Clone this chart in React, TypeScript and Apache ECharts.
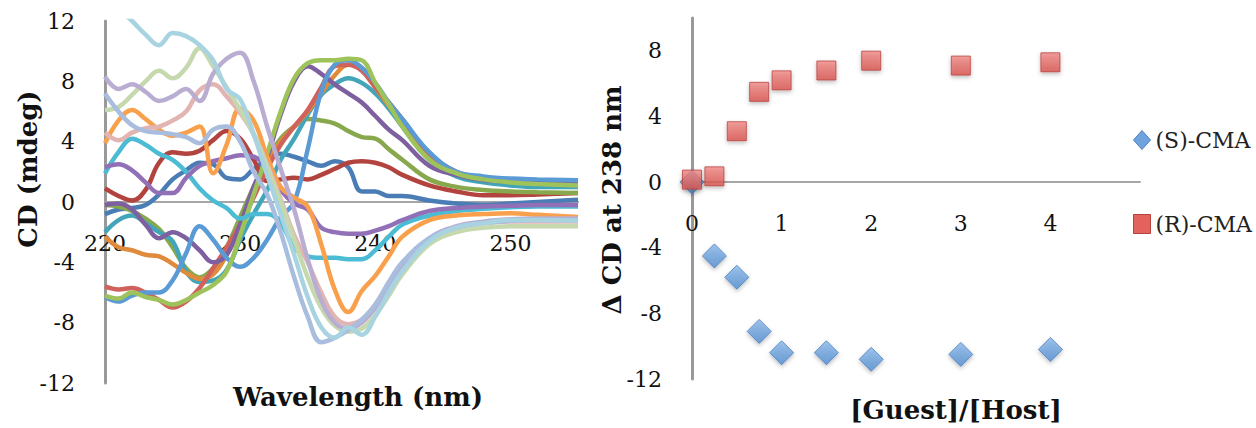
import React, { useEffect, useRef } from "react";
import * as echarts from "echarts";

// ---------- Left panel: CD spectra ----------
const wavelengths = [220, 221, 222, 223, 224, 225, 226, 227, 228, 229, 230, 231, 232, 233, 234, 235, 236, 237, 238, 239, 240, 241, 242, 244, 246, 248, 250, 252, 255];

const steelBlue = [-0.8, -0.5, -0.4, -0.2, 0.5, 1.5, 2.1, 2.6, 2.5, 1.6, 1.5, 2.2, 2.8, 3.2, 3.0, 2.7, 2.4, 2.7, 2.3, 0.7, 0.7, 0.4, 0.4, 0.1, -0.1, -0.2, -0.1, 0.0, 0.15];
const darkRed = [0.9, 0.4, 0.1, 0.8, 2.6, 3.3, 3.2, 3.4, 4.1, 4.7, 4.2, 2.8, 1.4, 1.5, 1.6, 1.5, 1.8, 2.2, 2.6, 2.7, 2.6, 2.3, 1.8, 1.1, 0.7, 0.45, 0.45, 0.5, 0.6];
const olive = [-0.2, -0.3, -0.6, -1.1, -1.8, -3.0, -4.4, -5.0, -4.4, -3.0, -1.0, 1.0, 2.8, 4.2, 5.0, 5.5, 5.4, 5.2, 4.7, 4.3, 4.2, 3.5, 2.8, 1.5, 1.0, 0.8, 0.7, 0.65, 0.6];
const teal = [-2.0, -1.2, -0.9, -1.4, -2.0, -2.6, -4.6, -5.3, -5.2, -4.5, -2.5, -0.8, 0.8, 2.8, 4.2, 5.8, 7.1, 7.8, 8.2, 7.9, 7.2, 6.2, 5.0, 2.8, 1.7, 1.3, 1.1, 1.0, 1.0];
const darkOrange = [-2.3, -3.0, -3.2, -3.5, -3.6, -4.1, -4.7, -5.1, -4.8, -3.5, -1.5, 0.5, 2.5, 4.0, 5.0, 6.0, 7.2, 8.4, 9.1, 8.9, 7.6, 6.4, 5.2, 3.0, 1.9, 1.6, 1.4, 1.35, 1.3];
const red = [-5.6, -5.8, -5.7, -6.0, -6.5, -7.0, -6.6, -5.7, -4.4, -3.0, -1.5, 0.3, 2.2, 3.8, 5.0, 6.1, 7.6, 9.0, 9.1, 8.7, 7.6, 6.6, 5.5, 3.2, 2.0, 1.6, 1.5, 1.4, 1.35];
const purple = [-0.2, -0.1, -0.5, -1.5, -2.4, -2.0, -2.4, -3.2, -4.0, -3.5, -1.5, 1.0, 3.0, 5.8, 8.0, 9.0, 8.5, 7.8, 7.2, 6.6, 5.7, 4.8, 4.1, 2.4, 1.8, 1.45, 1.35, 1.3, 1.25];
const brightBlue = [-6.3, -6.6, -6.2, -6.0, -6.0, -5.2, -3.4, -1.6, -2.5, -3.7, -4.3, -3.7, -2.5, -1.0, 0.0, 3.5, 7.3, 9.1, 9.4, 8.9, 7.9, 6.6, 5.5, 3.3, 2.0, 1.7, 1.55, 1.5, 1.45];
const limeGreen = [-6.2, -6.4, -6.0, -6.3, -6.5, -6.8, -6.5, -6.0, -5.5, -4.6, -2.2, 0.5, 3.2, 6.0, 8.2, 9.2, 9.4, 9.4, 9.5, 9.4, 7.9, 6.5, 5.0, 2.8, 1.9, 1.5, 1.3, 1.2, 1.1];
const cyan = [1.9, 3.3, 4.2, 3.8, 3.2, 2.8, 2.0, 0.9, 0.1, -0.4, -1.1, -0.8, -0.8, -1.4, -3.0, -3.6, -3.7, -3.7, -3.8, -3.8, -3.2, -2.3, -1.5, -0.9, -0.6, -0.45, -0.35, -0.3, -0.3];
const smallPurple = [2.3, 2.5, 2.1, 1.3, 0.6, 0.6, 1.6, 2.4, 2.7, 2.9, 3.1, 3.0, 2.3, 0.8, -0.1, -0.5, -1.7, -2.0, -2.1, -2.1, -1.9, -1.6, -1.2, -0.6, -0.4, -0.3, -0.25, -0.2, -0.2];
const orange = [3.9, 5.4, 6.1, 5.5, 4.8, 4.4, 4.6, 5.0, 1.9, 3.8, 6.2, 5.4, 3.0, 1.0, 0.3, -0.3, -2.8, -5.8, -7.3, -5.9, -4.9, -3.6, -2.3, -1.2, -0.9, -0.8, -0.75, -0.85, -1.0];
const pink = [4.6, 4.1, 4.6, 4.9, 5.0, 5.4, 6.0, 7.4, 7.8, 7.0, 5.9, 4.5, 2.5, 0.2, -2.2, -4.0, -6.0, -7.6, -8.1, -7.8, -6.8, -5.4, -4.1, -2.5, -1.7, -1.4, -1.3, -1.3, -1.3];
const lightGreen = [6.1, 6.3, 7.1, 8.0, 8.7, 8.2, 8.9, 10.2, 9.0, 7.6, 6.1, 4.5, 2.3, 0.0, -2.5, -5.0, -7.0, -8.2, -8.6, -8.4, -7.5, -6.2, -4.8, -2.8, -2.0, -1.7, -1.6, -1.6, -1.6];
const lightPurple = [8.3, 7.5, 7.8, 7.3, 6.7, 7.0, 7.5, 6.7, 8.5, 9.5, 9.9, 8.0, 5.0, 2.2, -0.5, -3.8, -6.5, -8.0, -8.4, -8.0, -7.0, -5.5, -4.2, -2.4, -1.6, -1.3, -1.15, -1.1, -1.1];
const lavenderBlue = [7.2, 6.0, 5.1, 4.7, 4.6, 4.5, 4.3, 3.9, 4.8, 5.0, 4.0, 2.0, 0.5, -2.0, -5.0, -7.6, -9.3, -9.0, -8.5, -7.8, -6.8, -5.3, -4.0, -2.4, -1.7, -1.4, -1.25, -1.2, -1.2];
const lightCyan = [13.6, 12.8, 12.0, 11.1, 10.4, 11.2, 11.0, 10.4, 9.4, 7.5, 6.8, 4.5, 1.8, -0.8, -3.5, -6.3, -8.3, -9.0, -8.3, -8.8, -7.6, -6.0, -4.6, -2.6, -1.7, -1.4, -1.2, -1.2, -1.25];

const spectra: [string, number[], string][] = [
  ["Steel blue", steelBlue, "#4a7db5"],
  ["Dark red", darkRed, "#b2433e"],
  ["Olive", olive, "#88a84e"],
  ["Teal", teal, "#43a5b9"],
  ["Dark orange", darkOrange, "#e08a3c"],
  ["Red", red, "#d0625c"],
  ["Purple", purple, "#7e60a1"],
  ["Bright blue", brightBlue, "#5b9bd5"],
  ["Lime green", limeGreen, "#9dc35a"],
  ["Cyan", cyan, "#4bbcd3"],
  ["Small purple", smallPurple, "#9170b8"],
  ["Orange", orange, "#f9a04d"],
  ["Pink", pink, "#e2b5b3"],
  ["Light green", lightGreen, "#c6d8ad"],
  ["Light purple", lightPurple, "#b9aed1"],
  ["Lavender blue", lavenderBlue, "#a9bddf"],
  ["Light cyan", lightCyan, "#a8d3e1"],
];

// ---------- Right panel: titration ----------
const ratio = [0, 0.25, 0.5, 0.75, 1, 1.5, 2, 3, 4];
const sCMA = [0.0, -4.5, -5.8, -9.1, -10.4, -10.4, -10.8, -10.5, -10.2];
const rCMA = [0.15, 0.35, 3.1, 5.5, 6.2, 6.8, 7.4, 7.1, 7.3];

const SERIF = '"DejaVu Serif", "Liberation Serif", serif';

export default function App() {
  const ref = useRef<HTMLDivElement>(null);

  useEffect(() => {
    if (!ref.current) return;
    const chart = echarts.init(ref.current, undefined, { renderer: "svg" });

    const lineSeries = spectra.map(([name, vals, color]) => ({
      name,
      type: "line",
      xAxisIndex: 0,
      yAxisIndex: 0,
      data: wavelengths.map((w, i) => [w, vals[i]]),
      smooth: 0.4,
      showSymbol: false,
      symbol: "none",
      clip: true,
      lineStyle: { color, width: 4.5 },
      itemStyle: { color },
      z: 2,
    }));

    const blueGrad = new echarts.graphic.LinearGradient(0, 0, 0, 1, [
      { offset: 0, color: "#8ab8ea" },
      { offset: 1, color: "#4f8bcf" },
    ]);
    const redGrad = new echarts.graphic.LinearGradient(0, 0, 0, 1, [
      { offset: 0, color: "#f08a86" },
      { offset: 1, color: "#d9504b" },
    ]);

    const axisLabelStyle = { fontFamily: SERIF, fontSize: 22, color: "#111" };

    // grid geometry
    const g1 = { left: 105, top: 21, width: 473, height: 362 };
    const g2 = { left: 692, top: 18, width: 448, height: 361 };
    // distance from the zero line to the grid bottom (moves the x axes with their labels onto y = 0)
    const off1 = -(g1.height * 12) / 24;
    const off2 = -(g2.height * 12) / 22;

    chart.setOption({
      animation: false,
      backgroundColor: "#ffffff",
      grid: [
        { ...g1, containLabel: false },
        { ...g2, containLabel: false },
      ],
      xAxis: [
        {
          type: "value",
          gridIndex: 0,
          min: 220,
          max: 255,
          interval: 10,
          offset: off1,
          axisLine: { onZero: false, lineStyle: { color: "#a6a6a6", width: 2 } },
          axisTick: { show: false },
          splitLine: { show: false },
          axisLabel: { ...axisLabelStyle, margin: 30, showMaxLabel: false },
        },
        {
          type: "value",
          gridIndex: 1,
          min: 0,
          max: 5,
          interval: 1,
          offset: off2,
          axisLine: { onZero: false, lineStyle: { color: "#a6a6a6", width: 2 } },
          axisTick: { show: false },
          splitLine: { show: false },
          axisLabel: { ...axisLabelStyle, margin: 30 },
        },
      ],
      yAxis: [
        {
          type: "value",
          gridIndex: 0,
          min: -12,
          max: 12,
          interval: 4,
          axisLine: { show: true, onZero: false, lineStyle: { color: "#999999", width: 3 } },
          axisTick: { show: false },
          splitLine: { show: false },
          axisLabel: { ...axisLabelStyle, margin: 30 },
        },
        {
          type: "value",
          gridIndex: 1,
          min: -12,
          max: 10,
          interval: 4,
          axisLine: { show: true, onZero: false, lineStyle: { color: "#999999", width: 3 } },
          axisTick: { show: false },
          splitLine: { show: false },
          axisLabel: { ...axisLabelStyle, margin: 30, showMaxLabel: false },
        },
      ],
      legend: {
        orient: "vertical",
        left: 1128,
        top: 124,
        itemWidth: 17,
        itemHeight: 19,
        itemGap: 62,
        zlevel: 1,
        z: 10,
        textStyle: { fontFamily: SERIF, fontSize: 22, color: "#222" },
        data: [
          { name: "(S)-CMA", icon: "diamond", itemStyle: { color: "#6fa3df", borderColor: "#4a7fbf", borderWidth: 1, opacity: 1 } },
          { name: "(R)-CMA", icon: "rect", itemStyle: { color: "#e4625e", borderColor: "#b54441", borderWidth: 1, opacity: 1 } },
        ],
      },
      series: [
        ...lineSeries,
        {
          name: "(S)-CMA",
          type: "scatter",
          xAxisIndex: 1,
          yAxisIndex: 1,
          symbol: "diamond",
          symbolSize: 24,
          data: ratio.map((r, i) => [r, sCMA[i]]),
          itemStyle: {
            color: blueGrad,
            borderColor: "#4a7fbf",
            borderWidth: 1,
            shadowBlur: 4,
            shadowOffsetY: 2,
            shadowColor: "rgba(0,0,0,0.3)",
          },
          z: 3,
        },
        {
          name: "(R)-CMA",
          type: "scatter",
          xAxisIndex: 1,
          yAxisIndex: 1,
          symbol: "rect",
          symbolSize: 19,
          data: ratio.map((r, i) => [r, rCMA[i]]),
          itemStyle: {
            color: redGrad,
            borderColor: "#b54441",
            borderWidth: 1,
            shadowBlur: 4,
            shadowOffsetY: 2,
            shadowColor: "rgba(0,0,0,0.3)",
          },
          z: 4,
        },
      ],
      graphic: [
        {
          type: "text",
          x: 28,
          y: 169,
          rotation: Math.PI / 2,
          style: { text: "CD (mdeg)", font: `bold 26px ${SERIF}`, fill: "#111", align: "center", verticalAlign: "middle" },
        },
        {
          type: "text",
          x: 358,
          y: 397,
          style: { text: "Wavelength (nm)", font: `bold 26px ${SERIF}`, fill: "#111", align: "center", verticalAlign: "middle" },
        },
        {
          type: "text",
          x: 612,
          y: 200,
          rotation: Math.PI / 2,
          style: { text: "Δ CD at 238 nm", font: `bold 26px ${SERIF}`, fill: "#111", align: "center", verticalAlign: "middle" },
        },
        {
          type: "text",
          x: 956,
          y: 410,
          style: { text: "[Guest]/[Host]", font: `bold 26px ${SERIF}`, fill: "#111", align: "center", verticalAlign: "middle" },
        },
      ],
    });

    return () => chart.dispose();
  }, []);

  return (
    <div
      ref={ref}
      style={{ position: "fixed", left: 0, top: 0, width: 1256, height: 428, background: "#fff" }}
    />
  );
}
